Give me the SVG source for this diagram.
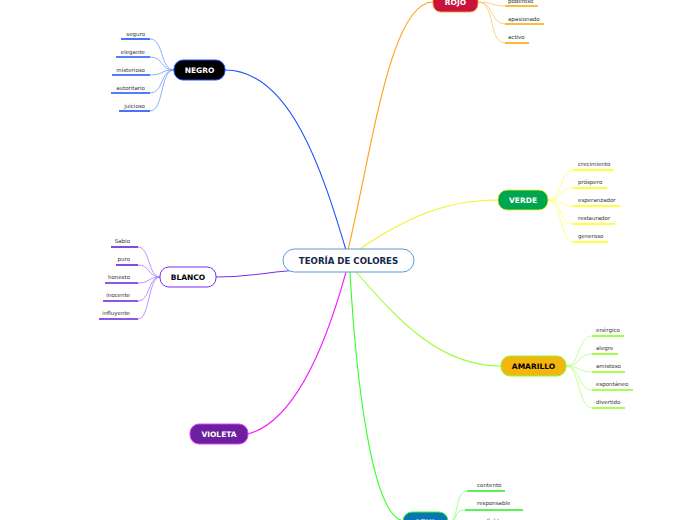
<svg xmlns="http://www.w3.org/2000/svg" width="696" height="520" viewBox="0 0 696 520">
<style>
.leaf{font-family:"DejaVu Sans",Verdana,sans-serif;font-size:5.5px;fill:#333}
.nt{font-family:"DejaVu Sans",Verdana,sans-serif;font-size:7.5px;font-weight:bold;text-anchor:middle;dominant-baseline:central}
.c{fill:none;stroke-width:1.1}
.lc{fill:none;stroke-width:0.8}
.u{fill:none;stroke-width:1.6}
</style>
<rect width="696" height="520" fill="#fff"/>
<g id="connectors">
<path class="c" stroke="#1e50ff" d="M225 70 C290 70 322 170 346 250"/>
<path class="c" stroke="#ff9f1a" d="M348 250 C372 150 390 2 433 2"/>
<path class="c" stroke="#f2f22a" d="M358 250 C400 222 440 200 498 200"/>
<path class="c" stroke="#7a2cf0" d="M216 277 C250 277 268 272 298 270"/>
<path class="c" stroke="#99ff33" d="M356 272 C400 322 440 366 501 366"/>
<path class="c" stroke="#f020ff" d="M248 434 C300 420 330 330 346 272"/>
<path class="c" stroke="#33ff22" d="M350 272 C356 380 372 518 404 521"/>
<!-- ROJO leaves -->
<g stroke="#ffc46b">
<path class="lc" d="M478 2 C492 2 492 6 505 6"/>
<path class="lc" d="M478 2 C494 2 490 24 505 24"/>
<path class="lc" d="M478 2 C496 2 488 43 505 43"/>
</g>
<g stroke="#ffa500">
<path class="u" d="M505 6 H538"/>
<path class="u" d="M505 24 H544"/>
<path class="u" d="M505 43 H529"/>
</g>
<!-- NEGRO leaves -->
<g stroke="#6f9bff">
<path class="lc" d="M174 70 C160 70 164 39 150 39"/>
<path class="lc" d="M174 70 C160 70 164 57 150 57"/>
<path class="lc" d="M174 70 C160 70 164 75 150 75"/>
<path class="lc" d="M174 70 C160 70 164 93 150 93"/>
<path class="lc" d="M174 70 C160 70 164 111 150 111"/>
</g>
<g stroke="#1a50ff">
<path class="u" d="M121 39 H150"/>
<path class="u" d="M116 57 H150"/>
<path class="u" d="M112 75 H150"/>
<path class="u" d="M111 93 H150"/>
<path class="u" d="M119 111 H150"/>
</g>
<!-- VERDE leaves -->
<g stroke="#ffff66">
<path class="lc" d="M548 200 C562 200 560 170 573 170"/>
<path class="lc" d="M548 200 C562 200 560 188 573 188"/>
<path class="lc" d="M548 200 C562 200 560 206 573 206"/>
<path class="lc" d="M548 200 C562 200 560 224 573 224"/>
<path class="lc" d="M548 200 C562 200 560 242 573 242"/>
</g>
<g stroke="#ffff00">
<path class="u" d="M573 170 H614"/>
<path class="u" d="M573 188 H607"/>
<path class="u" d="M573 206 H620"/>
<path class="u" d="M573 224 H615"/>
<path class="u" d="M573 242 H608"/>
</g>
<!-- BLANCO leaves -->
<g stroke="#a97bff">
<path class="lc" d="M160 277 C148 277 150 247 138 247"/>
<path class="lc" d="M160 277 C148 277 150 265 138 265"/>
<path class="lc" d="M160 277 C148 277 150 283 138 283"/>
<path class="lc" d="M160 277 C148 277 150 301 138 301"/>
<path class="lc" d="M160 277 C148 277 150 319 138 319"/>
</g>
<g stroke="#6020e0">
<path class="u" d="M111 247 H138"/>
<path class="u" d="M116 265 H138"/>
<path class="u" d="M105 283 H138"/>
<path class="u" d="M103 301 H138"/>
<path class="u" d="M99 319 H138"/>
</g>
<!-- AMARILLO leaves -->
<g stroke="#b8ff80">
<path class="lc" d="M566 366 C580 366 578 336 592 336"/>
<path class="lc" d="M566 366 C580 366 578 354 592 354"/>
<path class="lc" d="M566 366 C580 366 578 372 592 372"/>
<path class="lc" d="M566 366 C580 366 578 390 592 390"/>
<path class="lc" d="M566 366 C580 366 578 408 592 408"/>
</g>
<g stroke="#88ff1a">
<path class="u" d="M592 336 H624"/>
<path class="u" d="M592 354 H618"/>
<path class="u" d="M592 372 H625"/>
<path class="u" d="M592 390 H633"/>
<path class="u" d="M592 408 H625"/>
</g>
<!-- AZUL leaves -->
<g stroke="#88ff88">
<path class="lc" d="M448 522 C460 522 454 491 467 491"/>
<path class="lc" d="M448 522 C460 522 452 510 465 510"/>
<path class="lc" d="M448 522 C460 522 452 528 465 528"/>
</g>
<g stroke="#22ee22">
<path class="u" d="M467 491 H505"/>
<path class="u" d="M465 510 H523"/>
</g>
</g>
<g id="center">
<rect x="283" y="249" width="131" height="23" rx="11.5" fill="#fff" stroke="#5a9ad8" stroke-width="1"/>
<text class="nt" x="348.5" y="260.5" style="font-size:8.6px" fill="#14254a">TEORÍA DE COLORES</text>
</g>
<g id="rojo">
<rect x="433" y="-8" width="45" height="20" rx="8" fill="#c8143c" stroke="#ff9f1a" stroke-width="0.8"/>
<text class="nt" x="455.5" y="2.5" fill="#fff">ROJO</text>
<text class="leaf" x="508" y="3">poderoso</text>
<text class="leaf" x="508" y="21">apasionado</text>
<text class="leaf" x="508" y="39">activo</text>
</g>
<g id="negro">
<rect x="174" y="60" width="51" height="20" rx="9" fill="#000" stroke="#1e50ff" stroke-width="1"/>
<text class="nt" x="199.5" y="70.5" fill="#fff">NEGRO</text>
<g class="leaf" text-anchor="end">
<text x="145" y="36">seguro</text>
<text x="145" y="54">elegante</text>
<text x="145" y="72">misterioso</text>
<text x="145" y="90">autoritario</text>
<text x="145" y="108">juicioso</text>
</g>
</g>
<g id="verde">
<rect x="498" y="190" width="50" height="20" rx="9" fill="#00a550" stroke="#f2f22a" stroke-width="0.8"/>
<text class="nt" x="523" y="200.5" fill="#fff">VERDE</text>
<text class="leaf" x="578" y="166">crecimiento</text>
<text class="leaf" x="578" y="184">próspero</text>
<text class="leaf" x="578" y="202">esperanzador</text>
<text class="leaf" x="578" y="220">restaurador</text>
<text class="leaf" x="578" y="238">generoso</text>
</g>
<g id="blanco">
<rect x="160" y="267" width="56" height="20" rx="9" fill="#fff" stroke="#7a2cf0" stroke-width="1"/>
<text class="nt" x="188" y="277.5" fill="#000">BLANCO</text>
<g class="leaf" text-anchor="end">
<text x="130" y="243">Sabio</text>
<text x="130" y="261">puro</text>
<text x="130" y="279">honesto</text>
<text x="130" y="297">inocente</text>
<text x="130" y="315">influyente</text>
</g>
</g>
<g id="amarillo">
<rect x="501" y="356" width="65" height="20" rx="9" fill="#f5b50f" stroke="#88ff33" stroke-width="1"/>
<text class="nt" x="533.5" y="366.5" fill="#000">AMARILLO</text>
<text class="leaf" x="596" y="332">enérgico</text>
<text class="leaf" x="596" y="350">alegre</text>
<text class="leaf" x="596" y="368">amistoso</text>
<text class="leaf" x="596" y="386">espontáneo</text>
<text class="leaf" x="596" y="404">divertido</text>
</g>
<g id="violeta">
<rect x="190" y="424" width="58" height="20" rx="9" fill="#6c1f9e" stroke="#e040ff" stroke-width="1"/>
<text class="nt" x="219" y="434.5" fill="#fff">VIOLETA</text>
</g>
<g id="azul">
<rect x="403" y="512" width="45" height="20" rx="9" fill="#0a76b4" stroke="#33ff22" stroke-width="1"/>
<text class="nt" x="425.5" y="522.5" fill="#fff">AZUL</text>
<text class="leaf" x="477" y="487">contento</text>
<text class="leaf" x="477" y="505">responsable</text>
<text class="leaf" x="477" y="523">confiable</text>
</g>
</svg>
